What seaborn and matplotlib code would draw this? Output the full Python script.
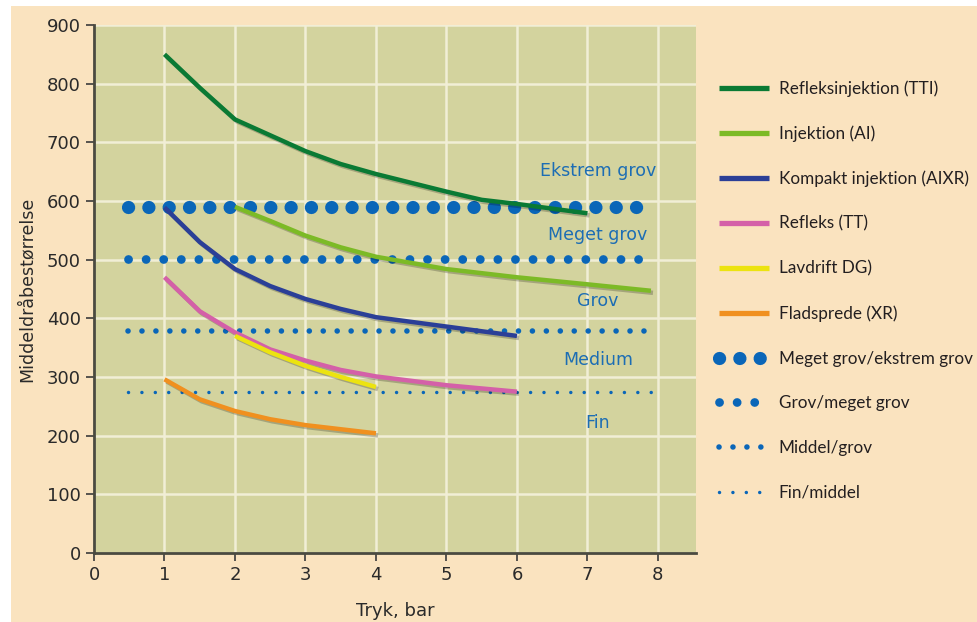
import pandas as pd
import numpy as np
import matplotlib.pyplot as plt
import matplotlib.patheffects as pe
from matplotlib.patches import Rectangle
import seaborn as sns

# Curves (pressure in bar -> droplet size)
tti_x = [1, 1.5, 2, 2.5, 3, 3.5, 4, 5, 5.5, 6, 6.5, 7]
tti_y = [850, 793, 739, 712, 685, 663, 646, 616, 602, 595, 587, 579]
ai_x = [2, 2.5, 3, 3.5, 4, 5, 6, 7, 7.9]
ai_y = [590, 566, 541, 521, 505, 484, 470, 458, 447]
aixr_x = [1, 1.5, 2, 2.5, 3, 3.5, 4, 5, 5.5, 6]
aixr_y = [589, 530, 484, 455, 433, 416, 402, 386, 378, 370]
tt_x = [1, 1.5, 2, 2.5, 3, 3.5, 4, 5, 6]
tt_y = [470, 412, 376, 347, 328, 312, 301, 286, 275]
dg_x = [2, 2.5, 3, 3.5, 4]
dg_y = [370, 342, 319, 300, 283]
xr_x = [1, 1.5, 2, 2.5, 3, 3.5, 4]
xr_y = [296, 262, 242, 228, 218, 211, 204]

curve_names = ['Refleksinjektion (TTI)', 'Injektion (AI)', 'Kompakt injektion (AIXR)',
               'Refleks (TT)', 'Lavdrift DG)', 'Fladsprede (XR)']
curve_colors = ['#0a7a34', '#7cba26', '#2b3f97', '#d460a8', '#ece310', '#f0901f']

# Class boundaries (dotted lines)
bound_names = ['Meget grov/ekstrem grov', 'Grov/meget grov', 'Middel/grov', 'Fin/middel']
bound_y = [590, 501, 378, 275]
bound_x = [0.48, 7.93]

# Class labels inside the plot
class_names = ['Ekstrem grov', 'Meget grov', 'Grov', 'Medium', 'Fin']
class_y = [651, 542, 429, 329, 221]
class_x = 7.15

bg_fig = '#fae3bf'
bg_ax = '#d3d39e'
dot_blue = '#0a66b8'

sns.set_style('white')
plt.rcParams['font.family'] = ['DejaVu Sans']

fig = plt.figure(figsize=(9.77, 6.22), dpi=100, facecolor='white')
fig.patches.append(Rectangle((11 / 977, 0), 1, 1 - 6 / 622, transform=fig.transFigure,
                             facecolor=bg_fig, edgecolor='none', zorder=-10))
ax = fig.add_axes([94 / 977, 69 / 622, (696 - 94) / 977, 528 / 622])
ax.set_facecolor(bg_ax)

ax.grid(True, color='#f1eed6', linewidth=1.8)
ax.set_axisbelow(True)

# dotted boundaries: (lw in pt, gap factor)
dot_styles = [(9.5, 1.53), (6.3, 2.0), (4.0, 2.5), (2.5, 3.85)]
for name, y, (lw, gap) in zip(bound_names, bound_y, dot_styles):
    df = pd.DataFrame({'x': bound_x, 'y': [y, y]})
    sns.lineplot(data=df, x='x', y='y', ax=ax, color=dot_blue, linewidth=lw,
                 linestyle=(0, (0.01, gap)), dash_capstyle='round', label=name, zorder=2)

shadow = [pe.SimpleLineShadow(offset=(1.5, -1.5), alpha=0.22), pe.Normal()]
curves = [(tti_x, tti_y), (ai_x, ai_y), (aixr_x, aixr_y), (tt_x, tt_y), (dg_x, dg_y), (xr_x, xr_y)]
for name, color, (xs, ys) in zip(curve_names, curve_colors, curves):
    df = pd.DataFrame({'x': xs, 'y': ys})
    sns.lineplot(data=df, x='x', y='y', ax=ax, color=color, linewidth=3.2,
                 label=name, zorder=3, path_effects=shadow, solid_capstyle='butt')

for name, y in zip(class_names, class_y):
    ax.text(class_x, y, name, color='#1c6db4', fontsize=12.5, ha='center', va='center')

ax.set_xlim(0, 8.54)
ax.set_ylim(0, 900)
ax.set_xticks(range(0, 9))
ax.set_yticks(range(0, 901, 100))
ax.tick_params(axis='both', labelsize=13, colors='#3a3a3a', labelcolor='#2a2a2a',
               length=6, width=1.2, direction='out', left=True, bottom=True)
for side in ['top', 'right']:
    ax.spines[side].set_visible(False)
for side in ['left', 'bottom']:
    ax.spines[side].set_color('#4a4a40')
    ax.spines[side].set_linewidth(2)
ax.set_xlabel('Tryk, bar', fontsize=13, color='#2a2a2a', labelpad=13)
ax.set_ylabel('Middeldråbestørrelse', fontsize=12.5, color='#2a2a2a', labelpad=8)

handles, labels = ax.get_legend_handles_labels()
order = curve_names + bound_names
hmap = dict(zip(labels, handles))
leg = ax.legend([hmap[n] for n in order], order, loc='upper left',
                bbox_to_anchor=(719 / 977, 1 - 80 / 622), bbox_transform=fig.transFigure,
                frameon=False, handlelength=2.95, handletextpad=0.55,
                labelspacing=1.68, borderpad=0, borderaxespad=0, labelcolor='#231f20',
                prop={'family': ['Lato', 'DejaVu Sans'], 'size': 12.3})
for h in leg.legend_handles[:6]:
    h.set_path_effects([])
    h.set_linewidth(3.8)

fig.savefig('out.png', dpi=100, facecolor=fig.get_facecolor())
